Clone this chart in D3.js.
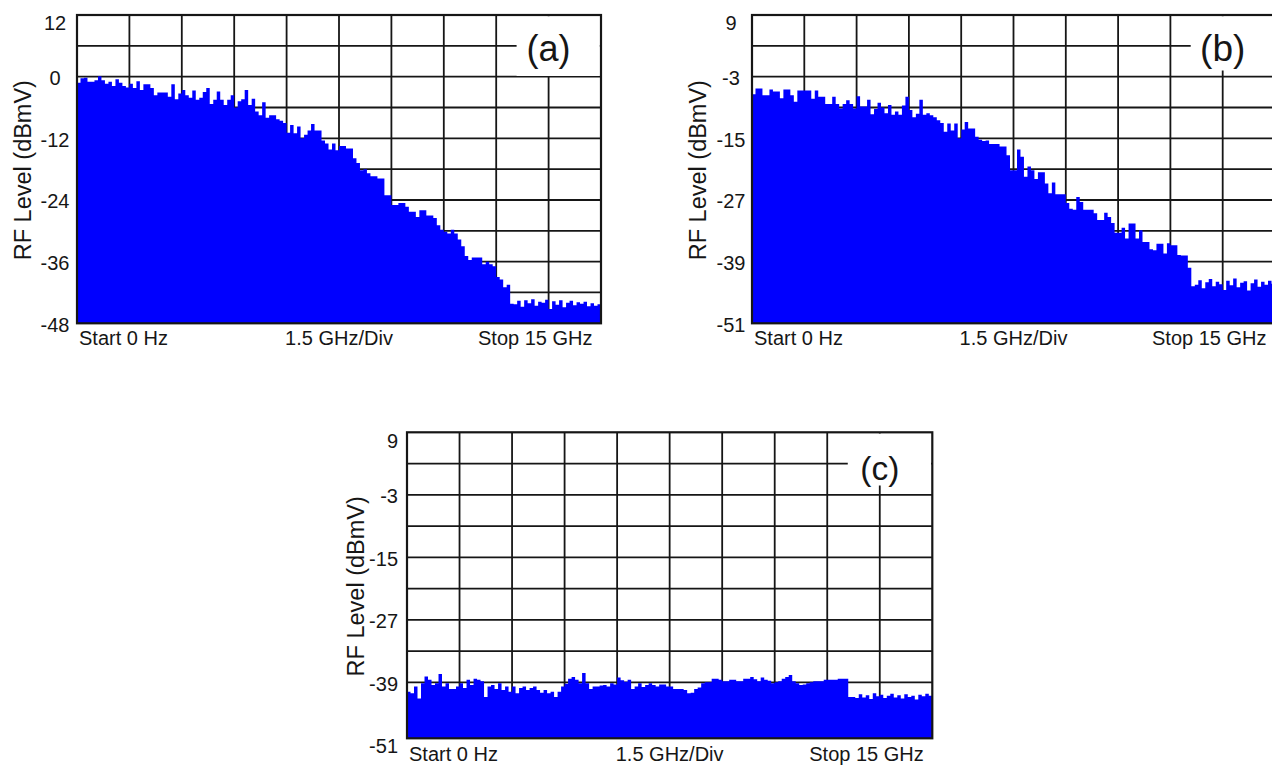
<!DOCTYPE html>
<html><head><meta charset="utf-8">
<script src="https://cdn.jsdelivr.net/npm/d3@7"></script>
<style>html,body{margin:0;padding:0;background:#fff;} svg{display:block;}</style>
</head><body>
<svg id="chart" width="1272" height="765"></svg>
<script>
// ---------------- data ----------------
const freqStepGHz = 0.1;          // one reading every 0.1 GHz
const spanGHz = 15;
const divGHz = 1.5;

const levelsA = [
  -1.2, -0.3, -0.2, -1.0, -1.0, -0.7, 0.1, -0.7, -1.4, -1.0,
  -1.8, -0.5, -1.2, -1.8, -2.1, -1.4, -2.2, -0.9, -2.6, -1.5,
  -1.5, -2.2, -3.6, -3.1, -3.1, -3.1, -3.9, -1.5, -4.4, -3.3,
  -2.6, -3.6, -4.1, -2.7, -4.5, -4.1, -3.0, -2.2, -5.3, -4.5,
  -2.9, -4.5, -5.5, -4.5, -3.6, -6.0, -4.8, -4.4, -2.6, -5.5,
  -4.3, -6.8, -7.5, -5.0, -8.0, -7.5, -7.5, -8.3, -8.6, -9.0,
  -10.9, -9.4, -11.0, -9.7, -12.0, -11.3, -10.5, -9.2, -10.5, -10.5,
  -12.4, -13.0, -14.2, -13.0, -14.3, -13.5, -13.5, -14.0, -14.0, -15.9,
  -16.8, -18.2, -18.0, -18.8, -19.4, -19.4, -19.8, -19.8, -23.1, -23.1,
  -25.0, -25.0, -24.6, -24.6, -25.3, -26.3, -26.3, -27.3, -26.0, -26.0,
  -27.0, -27.0, -27.5, -28.9, -29.8, -30.2, -30.5, -29.8, -30.5, -31.7,
  -33.0, -34.9, -35.7, -35.2, -35.2, -35.2, -36.5, -36.0, -36.5, -36.9,
  -39.0, -39.5, -41.0, -40.5, -44.2, -44.3, -43.6, -44.8, -43.5, -44.1,
  -43.3, -44.6, -43.8, -44.0, -43.4, -45.2, -43.7, -44.4, -43.5, -44.9,
  -44.0, -43.6, -44.5, -43.9, -44.2, -43.8, -44.7, -44.1, -44.6, -44.3
];

const levelsB = [
  -6.4, -5.3, -5.3, -6.6, -6.6, -5.5, -5.9, -5.9, -7.2, -5.5,
  -5.5, -6.6, -7.9, -5.7, -5.7, -5.7, -5.7, -7.3, -5.7, -6.9,
  -6.9, -8.3, -8.3, -6.9, -8.3, -9.2, -8.3, -7.6, -8.3, -9.2,
  -6.8, -8.8, -8.8, -7.5, -10.3, -9.3, -8.1, -9.0, -10.1, -8.5,
  -10.4, -9.8, -10.4, -8.6, -6.9, -9.5, -10.9, -10.2, -7.5, -10.4,
  -10.1, -10.5, -10.9, -11.5, -12.0, -13.7, -12.1, -13.5, -12.1, -15.0,
  -13.3, -11.8, -13.1, -13.1, -14.7, -15.3, -15.5, -15.4, -16.1, -16.1,
  -16.1, -16.6, -16.6, -18.3, -21.2, -21.2, -17.2, -18.6, -22.5, -20.5,
  -21.2, -22.9, -21.6, -21.6, -23.8, -25.7, -23.6, -25.9, -25.9, -25.9,
  -27.6, -28.7, -28.9, -26.4, -27.4, -28.9, -28.9, -28.9, -29.6, -30.9,
  -30.9, -29.5, -30.3, -31.5, -33.4, -33.4, -32.4, -34.5, -31.6, -31.6,
  -34.5, -32.9, -35.2, -35.2, -36.6, -36.8, -35.5, -35.5, -37.4, -35.4,
  -35.8, -35.8, -37.7, -37.8, -37.8, -40.2, -43.8, -43.5, -42.6, -44.2,
  -43.0, -42.4, -43.8, -42.9, -43.4, -44.5, -42.7, -43.6, -42.3, -44.0,
  -43.1, -42.8, -44.6, -43.2, -42.5, -43.9, -42.9, -43.5, -42.7, -43.3
];

const levelsC = [
  -40.8, -41.1, -39.8, -42.1, -39.2, -37.9, -38.5, -39.5, -39.2, -37.4,
  -39.8, -39.2, -40.3, -40.3, -39.8, -39.2, -40.1, -38.5, -39.5, -38.3,
  -38.5, -38.8, -41.8, -39.8, -39.5, -40.3, -39.2, -40.5, -39.8, -40.8,
  -39.8, -41.1, -40.1, -39.8, -40.5, -40.1, -39.8, -40.5, -41.0, -40.5,
  -41.1, -40.8, -41.8, -40.8, -39.8, -39.3, -38.3, -38.0, -38.5, -39.2,
  -37.2, -39.2, -40.3, -39.8, -39.8, -39.6, -39.5, -39.8, -39.2, -39.4,
  -38.1, -38.6, -38.9, -38.5, -40.3, -39.8, -39.2, -39.9, -39.5, -39.2,
  -39.5, -39.8, -39.4, -39.4, -39.8, -39.8, -40.3, -40.3, -40.3, -40.5,
  -41.1, -41.0, -40.3, -40.0, -39.2, -39.0, -39.0, -38.3, -38.3, -38.5,
  -38.8, -38.8, -38.5, -38.5, -38.8, -38.8, -38.3, -38.3, -38.0, -38.4,
  -38.8, -38.1, -38.5, -38.7, -39.2, -39.0, -38.8, -38.3, -38.0, -37.6,
  -38.8, -39.2, -39.5, -39.4, -39.2, -39.0, -38.8, -38.8, -38.8, -38.5,
  -38.5, -38.5, -38.5, -38.3, -38.3, -38.3, -41.8, -41.8, -42.0, -41.3,
  -41.9, -41.5, -42.2, -41.1, -41.7, -41.4, -42.0, -41.6, -41.2, -41.9,
  -41.5, -42.1, -41.3, -41.8, -41.6, -42.3, -41.4, -41.7, -41.2, -41.6
];

const yDomainA = [-48, 12];
const yDomainBC = [-51, 9];
const yTicksA = [12, 0, -12, -24, -36, -48];
const yTicksBC = [9, -3, -15, -27, -39, -51];
const dbPerDiv = 6;
const xLabels = ["Start 0 Hz", "1.5 GHz/Div", "Stop 15 GHz"];
const yTitle = "RF Level (dBmV)";
const panelTags = ["(a)", "(b)", "(c)"];
const panelLevels = [levelsA, levelsB, levelsC];

// ---------------- layout ----------------
const layout = [
  {left:77,  top:15,    width:524,   height:308.3, frameBottom:323.3, xLabelY:345,   tickX:55,  tickAnchor:"middle", titleX:30.5,  tagSize:36,   tagY:61,  tagBoxBottom:76},
  {left:752, top:15,    width:523,   height:308.3, frameBottom:323.3, xLabelY:345,   tickX:731, tickAnchor:"middle", titleX:705.5, tagSize:37,   tagY:61,  tagBoxBottom:70.5},
  {left:407, top:432.3, width:525.3, height:312.5, frameBottom:738.3, xLabelY:760.5, tickX:398, tickAnchor:"end",    titleX:363.5, tagSize:33.5, tagY:480, tagBoxBottom:485.5}
];
const yDomains = [yDomainA, yDomainBC, yDomainBC];
const yTickSets = [yTicksA, yTicksBC, yTicksBC];

const FONT = "'Liberation Sans', Arial, Helvetica, sans-serif";
const INK = "#161616";
const svg = d3.select("#chart");

layout.forEach((L, p) => {
  const levels = panelLevels[p];
  const yDom = yDomains[p];
  const right = L.left + L.width;
  const x = d3.scaleLinear().domain([0, spanGHz]).range([L.left, right]);
  const y = d3.scaleLinear().domain(yDom).range([L.top + L.height, L.top]);
  const g = svg.append("g");

  const clipId = "clip" + p;
  svg.append("defs").append("clipPath").attr("id", clipId)
    .append("rect").attr("x", L.left).attr("y", L.top)
    .attr("width", L.width).attr("height", L.frameBottom - L.top);

  // grid
  const grid = g.append("g").attr("stroke", INK).attr("stroke-width", 1.8);
  const xg = d3.range(divGHz, spanGHz - 0.01, divGHz);
  grid.selectAll("line.v").data(xg).join("line")
    .attr("x1", d => x(d)).attr("x2", d => x(d))
    .attr("y1", L.top).attr("y2", L.frameBottom);
  const yg = d3.range(yDom[0] + dbPerDiv, yDom[1] - 0.01, dbPerDiv).filter(v => y(v) < L.frameBottom - 1);
  grid.selectAll("line.h").data(yg).join("line")
    .attr("x1", L.left).attr("x2", right)
    .attr("y1", d => y(d)).attr("y2", d => y(d));

  // spectrum fill
  const pts = levels.map((v, i) => ({f: i * freqStepGHz, v}));
  pts.push({f: spanGHz, v: levels[levels.length - 1]});
  const area = d3.area().curve(d3.curveStepAfter)
    .x(d => x(d.f)).y0(L.frameBottom).y1(d => y(d.v));
  g.append("path").datum(pts).attr("d", area)
    .attr("fill", "#0000ff").attr("clip-path", `url(#${clipId})`);

  // tag box + tag
  const tagX = x(spanGHz - divGHz);
  g.append("rect").attr("x", tagX - 32).attr("y", L.top + 1.2)
    .attr("width", right - 1.2 - (tagX - 32)).attr("height", L.tagBoxBottom - L.top - 1.2)
    .attr("fill", "#fff");
  g.append("text").attr("x", tagX).attr("y", L.tagY)
    .attr("text-anchor", "middle").attr("font-family", FONT)
    .attr("font-size", L.tagSize).attr("fill", INK).text(panelTags[p]);

  // frame
  g.append("rect").attr("x", L.left).attr("y", L.top)
    .attr("width", L.width).attr("height", L.frameBottom - L.top)
    .attr("fill", "none").attr("stroke", INK).attr("stroke-width", 2.2);

  // y tick labels
  g.selectAll("text.yt").data(yTickSets[p]).join("text")
    .attr("x", L.tickX)
    .attr("y", d => d === yDom[1] ? y(d) + 8 : y(d) + 1)
    .attr("dy", "0.36em")
    .attr("text-anchor", L.tickAnchor).attr("font-family", FONT)
    .attr("font-size", 20).attr("fill", INK).text(d => d);

  // x labels
  const xl = g.append("g").attr("font-family", FONT).attr("font-size", 20).attr("fill", INK);
  xl.append("text").attr("x", L.left + 2).attr("y", L.xLabelY).attr("text-anchor", "start").text(xLabels[0]);
  xl.append("text").attr("x", x(spanGHz / 2)).attr("y", L.xLabelY).attr("text-anchor", "middle").text(xLabels[1]);
  xl.append("text").attr("x", right - 8.5).attr("y", L.xLabelY).attr("text-anchor", "end").text(xLabels[2]);

  // y title
  g.append("text")
    .attr("transform", `translate(${L.titleX},${(L.top + L.frameBottom) / 2 + 1}) rotate(-90)`)
    .attr("text-anchor", "middle").attr("font-family", FONT)
    .attr("font-size", 23.5).attr("fill", INK).text(yTitle);
});
</script>
</body></html>
